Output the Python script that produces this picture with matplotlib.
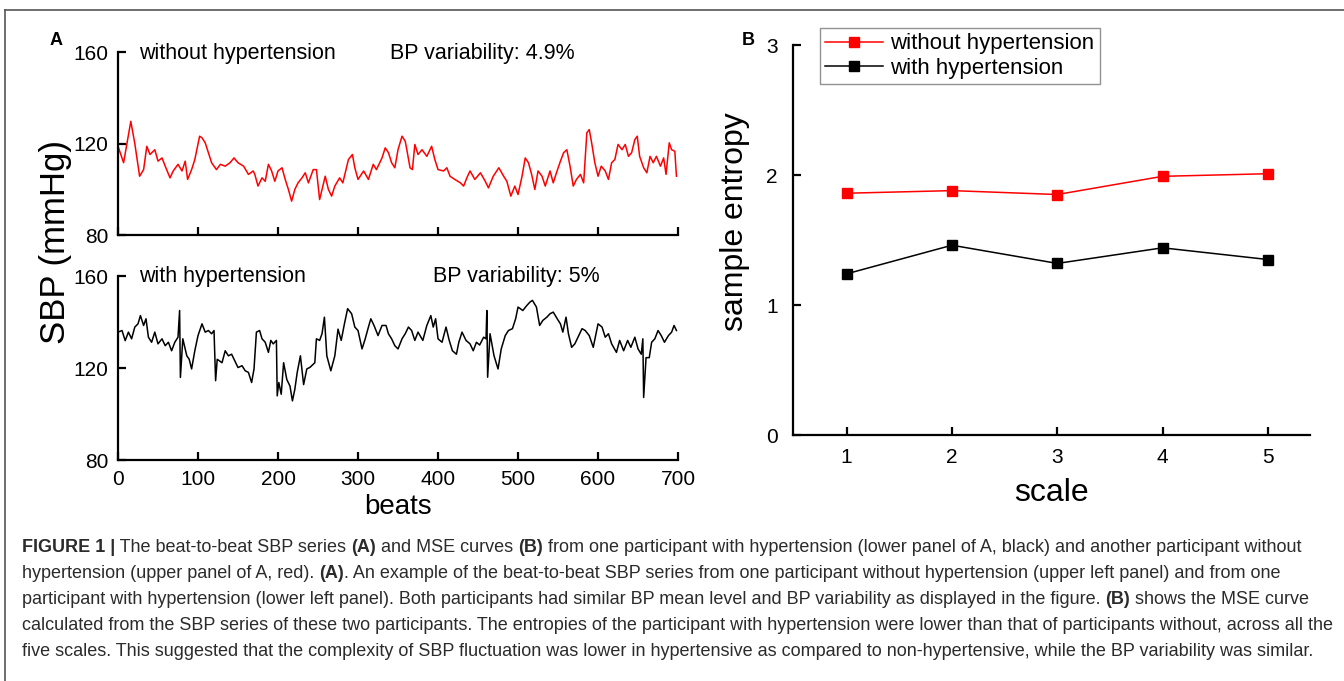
import numpy as np
import matplotlib.pyplot as plt
from matplotlib.lines import Line2D

plt.rcParams['font.family'] = ['Liberation Sans', 'DejaVu Sans']

# beat-to-beat SBP, participant without hypertension (red, upper panel)
beats_no = [0, 7, 16, 21, 27, 32, 36, 40, 46, 50, 55, 59, 65, 69, 75, 80, 84, 87, 92, 96,
            102, 105, 109, 113, 117, 123, 128, 134, 140, 145, 150, 157, 163, 169, 171, 175,
            180, 184, 188, 192, 196, 200, 205, 209, 213, 217, 221, 225, 230, 234, 238, 244,
            248, 252, 259, 263, 267, 271, 277, 281, 288, 293, 296, 300, 307, 313, 319, 323,
            330, 334, 338, 342, 346, 350, 355, 359, 361, 365, 368, 371, 375, 380, 386, 392,
            396, 400, 407, 411, 415, 421, 428, 432, 436, 440, 446, 453, 459, 463, 469, 476,
            482, 486, 491, 496, 500, 505, 509, 513, 517, 521, 525, 530, 534, 540, 544, 548,
            553, 557, 561, 565, 569, 573, 578, 582, 586, 589, 592, 596, 600, 604, 609, 613,
            617, 621, 625, 630, 634, 638, 642, 646, 649, 652, 657, 661, 665, 669, 673, 678,
            682, 685, 689, 692, 696, 698]
sbp_no = [118.8, 111.6, 129.7, 120.0, 105.7, 108.6, 118.8, 115.2, 117.3, 112.3, 113.7, 110.1,
          105.0, 108.0, 110.9, 108.0, 112.3, 104.3, 108.6, 113.0, 123.2, 122.5, 120.3, 116.0,
          111.6, 108.6, 110.9, 110.1, 111.6, 113.7, 111.6, 110.1, 106.5, 108.0, 106.5, 101.4,
          105.0, 103.5, 110.9, 108.0, 103.5, 108.0, 109.4, 104.3, 99.9, 94.8, 99.9, 102.8,
          105.0, 107.2, 102.8, 108.6, 108.6, 95.5, 105.7, 99.9, 97.0, 101.4, 105.0, 102.8,
          113.0, 115.2, 109.4, 104.3, 108.0, 104.3, 110.9, 108.6, 113.7, 118.1, 116.0, 111.6,
          109.4, 117.3, 123.2, 121.0, 117.3, 109.4, 108.6, 119.6, 115.2, 117.3, 114.4, 118.8,
          113.0, 108.6, 108.0, 109.4, 105.7, 104.3, 102.8, 101.4, 105.0, 108.0, 104.3, 107.2,
          103.5, 100.6, 105.7, 109.4, 105.7, 103.5, 97.0, 101.4, 97.7, 105.7, 113.7, 111.6,
          106.5, 99.9, 108.0, 105.7, 101.4, 108.0, 102.8, 107.2, 112.3, 116.0, 117.3, 110.1,
          101.4, 104.3, 106.5, 102.8, 124.7, 126.1, 120.3, 111.6, 105.7, 110.1, 108.0, 104.3,
          111.6, 113.0, 119.6, 117.3, 119.6, 114.4, 116.0, 121.7, 123.2, 114.4, 109.4, 107.2,
          114.4, 111.6, 114.4, 110.1, 113.7, 106.5, 120.3, 117.3, 116.6, 105.7]

# beat-to-beat SBP, participant with hypertension (black, lower panel)
beats_ht = [0, 5, 9, 13, 17, 21, 25, 28, 32, 35, 38, 42, 46, 50, 55, 59, 63, 67, 71, 75,
            77, 78, 81, 86, 89, 92, 96, 100, 105, 109, 113, 117, 120, 122, 124, 130, 134, 138,
            142, 146, 150, 155, 159, 163, 167, 170, 173, 177, 180, 184, 188, 191, 194, 198,
            199, 201, 204, 207, 211, 215, 218, 221, 224, 228, 232, 236, 240, 246, 248, 252,
            255, 258, 261, 266, 271, 275, 279, 283, 287, 292, 296, 300, 305, 309, 313, 316,
            320, 325, 330, 335, 338, 342, 346, 350, 355, 359, 363, 367, 371, 375, 381, 386,
            391, 394, 397, 400, 405, 410, 414, 418, 423, 426, 430, 435, 440, 444, 448, 452,
            457, 460, 461, 462, 465, 470, 475, 479, 484, 488, 493, 497, 500, 506, 511, 515,
            518, 523, 527, 531, 536, 540, 544, 549, 553, 556, 560, 563, 567, 571, 575, 580,
            584, 589, 594, 600, 605, 609, 613, 617, 623, 627, 632, 637, 641, 646, 650, 654,
            656, 657, 660, 664, 667, 671, 675, 679, 683, 688, 692, 695, 698]
sbp_ht = [135.6, 136.3, 131.9, 135.6, 132.7, 137.8, 139.2, 142.8, 138.5, 141.4, 133.4, 131.2,
          135.6, 130.5, 132.7, 129.7, 131.2, 127.5, 131.2, 133.4, 145.0, 115.9, 132.7, 125.3,
          123.8, 119.6, 127.5, 134.1, 139.2, 135.6, 136.3, 134.9, 136.3, 114.5, 123.8, 122.3,
          127.5, 125.3, 126.0, 123.1, 120.2, 121.0, 118.8, 118.1, 113.7, 119.6, 135.6, 136.3,
          132.7, 131.2, 126.8, 132.0, 130.5, 132.0, 107.9, 113.7, 108.6, 122.3, 115.0, 112.1,
          105.7, 110.7, 118.1, 125.3, 112.8, 119.6, 120.3, 122.3, 132.7, 132.0, 134.9, 142.1,
          125.3, 118.8, 125.3, 136.9, 132.0, 139.2, 145.8, 143.6, 137.8, 136.3, 128.3, 132.7,
          137.8, 141.4, 138.5, 134.1, 138.5, 138.5, 134.9, 132.7, 129.7, 128.3, 132.7, 134.9,
          137.8, 136.3, 132.0, 135.6, 132.0, 138.5, 142.8, 137.8, 141.4, 132.7, 131.2, 137.8,
          132.0, 127.5, 126.0, 131.2, 135.6, 132.0, 130.5, 127.5, 131.2, 130.0, 133.4, 132.7,
          145.0, 116.0, 134.9, 125.3, 119.6, 128.3, 134.1, 136.3, 137.1, 141.4, 146.5, 145.0,
          147.2, 148.7, 149.4, 146.5, 138.5, 140.7, 142.1, 143.6, 144.3, 141.4, 139.2, 135.6,
          142.1, 134.9, 129.0, 130.5, 133.4, 137.1, 136.3, 134.1, 129.0, 139.2, 137.8, 133.4,
          134.9, 130.5, 126.8, 132.0, 127.5, 132.0, 129.0, 133.4, 128.3, 126.0, 132.7, 107.2,
          124.5, 124.5, 131.2, 132.7, 136.3, 134.1, 131.2, 134.1, 135.6, 138.5, 136.3]

# multiscale entropy
scales = [1, 2, 3, 4, 5]
mse_no = [1.86, 1.88, 1.85, 1.99, 2.01]
mse_ht = [1.24, 1.46, 1.32, 1.44, 1.35]

TICK = 15

fig = plt.figure(figsize=(13.44, 6.81), dpi=100)


def style_axes(ax):
    for s in ['top', 'right']:
        ax.spines[s].set_visible(False)
    for s in ['left', 'bottom']:
        ax.spines[s].set_linewidth(1.6)
    ax.tick_params(direction='in', length=6, width=1.6, labelsize=TICK)


# panel A
ax1 = fig.add_axes([0.0878, 0.6549, 0.4167, 0.2687])
ax2 = fig.add_axes([0.0878, 0.3245, 0.4167, 0.2702])
ax1.plot(beats_no, sbp_no, color='red', lw=1.1)
ax2.plot(beats_ht, sbp_ht, color='black', lw=1.1)
for ax in (ax1, ax2):
    style_axes(ax)
    ax.set_xlim(0, 700)
    ax.set_ylim(80, 160)
    ax.set_yticks([80, 120, 160])
    ax.set_xticks(range(0, 701, 100))
    ax.tick_params(axis='y', pad=7)
ax1.tick_params(axis='x', labelbottom=False)
ax2.tick_params(axis='x', pad=7)

ax1.text(0.0375, 0.99, 'without hypertension', transform=ax1.transAxes,
         fontsize=15.5, va='center', ha='left')
ax1.text(0.486, 0.99, 'BP variability: 4.9%', transform=ax1.transAxes,
         fontsize=15.5, va='center', ha='left')
ax2.text(0.0375, 1.0, 'with hypertension', transform=ax2.transAxes,
         fontsize=15.5, va='center', ha='left')
ax2.text(0.5625, 1.0, 'BP variability: 5%', transform=ax2.transAxes,
         fontsize=15.5, va='center', ha='left')

fig.text(0.041, 0.6446, 'SBP (mmHg)', rotation=90, fontsize=25, ha='center', va='center')
fig.text(0.296, 0.2555, 'beats', fontsize=20, ha='center', va='center')
fig.text(0.037, 0.941, 'A', fontsize=13, fontweight='bold', ha='left', va='center')

# panel B
ax3 = fig.add_axes([0.59, 0.3612, 0.3847, 0.5727])
ax3.plot(scales, mse_no, color='red', lw=1.1, marker='s', ms=7.5,
         label='without hypertension')
ax3.plot(scales, mse_ht, color='black', lw=1.1, marker='s', ms=7.5,
         label='with hypertension')
style_axes(ax3)
ax3.set_xlim(0.49, 5.4)
ax3.set_ylim(0, 3)
ax3.set_yticks([0, 1, 2, 3])
ax3.set_xticks(scales)
ax3.tick_params(axis='y', pad=11)
ax3.tick_params(axis='x', pad=9)
ax3.set_xlabel('scale', fontsize=23, labelpad=8)
ax3.set_ylabel('sample entropy', fontsize=23)
ax3.yaxis.set_label_coords(-0.083, 0.546)
leg = ax3.legend(loc='upper left', bbox_to_anchor=(0.610, 0.959),
                 bbox_transform=fig.transFigure, fontsize=16, frameon=True,
                 fancybox=False, edgecolor='#777777', borderpad=0.25,
                 handlelength=2.6, handletextpad=0.3, labelspacing=0.15,
                 borderaxespad=0)
leg.get_frame().set_linewidth(1.0)
fig.text(0.552, 0.941, 'B', fontsize=13, fontweight='bold', ha='left', va='center')

# outer frame lines
fig.add_artist(Line2D([0.0037, 1.0], [1 - 10 / 681, 1 - 10 / 681],
                      transform=fig.transFigure, color='#555555', lw=1.2))
fig.add_artist(Line2D([0.0037, 0.0037], [0.0, 1 - 10 / 681],
                      transform=fig.transFigure, color='#555555', lw=1.2))

# caption, mixed bold and regular pieces on each line
caption = [
    [('FIGURE 1 |', True), (' The beat-to-beat SBP series ', False), ('(A)', True),
     (' and MSE curves ', False), ('(B)', True),
     (' from one participant with hypertension (lower panel of A, black) and another participant without', False)],
    [('hypertension (upper panel of A, red). ', False), ('(A)', True),
     ('. An example of the beat-to-beat SBP series from one participant without hypertension (upper left panel) and from one', False)],
    [('participant with hypertension (lower left panel). Both participants had similar BP mean level and BP variability as displayed in the figure. ', False),
     ('(B)', True), (' shows the MSE curve', False)],
    [('calculated from the SBP series of these two participants. The entropies of the participant with hypertension were lower than that of participants without, across all the', False)],
    [('five scales. This suggested that the complexity of SBP fluctuation was lower in hypertensive as compared to non-hypertensive, while the BP variability was similar.', False)],
]
CAP = 13.0
renderer = fig.canvas.get_renderer()
W = fig.bbox.width
for i, line in enumerate(caption):
    x = 22 / 1344
    y = 1 - (548 + 26 * i) / 681
    for txt, bold in line:
        t = fig.text(x, y, txt, fontsize=CAP, color='#2b2b2b', va='center', ha='left',
                     fontweight='bold' if bold else 'normal')
        x += t.get_window_extent(renderer=renderer).width / W

fig.savefig('out.png', dpi=100)
